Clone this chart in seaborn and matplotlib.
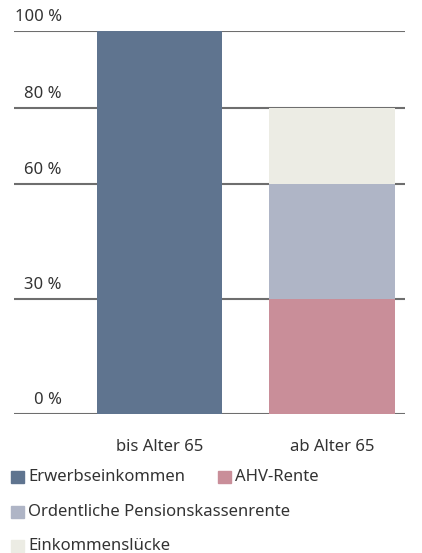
import matplotlib
matplotlib.use("Agg")
import matplotlib.pyplot as plt
import seaborn as sns
import pandas as pd
from matplotlib.patches import Rectangle

# Daten
kategorien = ["bis Alter 65", "ab Alter 65"]
erwerb = [100, 0]
ahv = [0, 30]
pk = [0, 30]
luecke = [0, 20]
y_ticks = [0, 30, 60, 80, 100]

serien = ["Erwerbseinkommen", "AHV-Rente", "Ordentliche Pensionskassenrente", "Einkommenslücke"]
farben = ["#5f748f", "#c98e99", "#afb5c6", "#ecece4"]

sns.set_theme(style="white")
plt.rcParams["font.family"] = ["Noto Sans", "DejaVu Sans"]
textfarbe = "#333333"

fig = plt.figure(figsize=(4.22, 5.53), dpi=100)
ax = fig.add_axes([14 / 422, 1 - 414 / 553, (405 - 14) / 422, (414 - 31) / 553])

# Gitterlinien hinter den Balken
for t in y_ticks:
    ax.axhline(t, color="#6e6e6e", lw=1.5, zorder=0)
    ax.text(48 / 391, t + 1.5, f"{t} %", transform=ax.get_yaxis_transform(),
            ha="right", va="bottom", fontsize=12, color=textfarbe)

df = pd.DataFrame({"kat": kategorien, "erwerb": erwerb, "ahv": ahv, "pk": pk, "luecke": luecke})
unten = [0, 0]
for spalte, farbe in zip(["erwerb", "ahv", "pk", "luecke"], farben):
    sns.barplot(data=df, x="kat", y=spalte, order=kategorien, color=farbe, width=0.725,
                bottom=unten, saturation=1, ax=ax, zorder=2, linewidth=0)
    unten = [u + v for u, v in zip(unten, df[spalte])]

ax.set_xlim(-0.843, 1.423)
ax.set_ylim(0, 100)
ax.set_xlabel("")
ax.set_ylabel("")
ax.set_yticks([])
ax.tick_params(axis="x", length=0, pad=18, labelsize=12, labelcolor=textfarbe)
for s in ax.spines.values():
    s.set_visible(False)

# Legende manuell
legende = [(11, 477, 0), (218, 477, 1), (11, 512, 2), (11, 546, 3)]
for x, y, i in legende:
    fig.patches.append(Rectangle((x / 422, 1 - (y + 6) / 553), 13 / 422, 12 / 553,
                                 transform=fig.transFigure, color=farben[i]))
    fig.text((x + 17) / 422, 1 - y / 553, serien[i], ha="left", va="center",
             fontsize=12, color=textfarbe)

fig.savefig("out.png", dpi=100)
